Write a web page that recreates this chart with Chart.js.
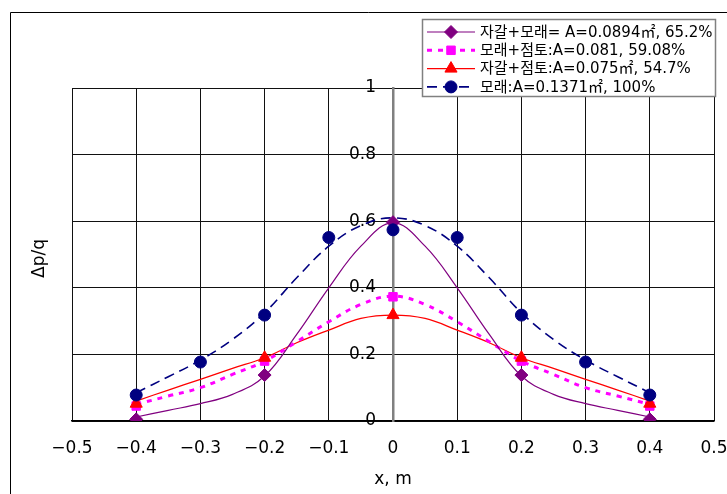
<!DOCTYPE html>
<html>
<head>
<meta charset="utf-8">
<script src="https://cdn.jsdelivr.net/npm/chart.js@4.4.1/dist/chart.umd.min.js"></script>
<style>
  html, body { margin: 0; padding: 0; background: #fff; }
  canvas { display: block; }
</style>
</head>
<body>
<canvas id="chart" width="727" height="494"></canvas>
<script>
// fitted curves, sampled every 0.05 m
const curveX = [-0.4, -0.35, -0.3, -0.25, -0.2, -0.15, -0.1, -0.05, 0, 0.05, 0.1, 0.15, 0.2, 0.25, 0.3, 0.35, 0.4];
const gravelSandCurve = [0.012, 0.032, 0.052, 0.08, 0.135, 0.26, 0.40, 0.525, 0.595, 0.525, 0.40, 0.26, 0.135, 0.08, 0.052, 0.032, 0.012];
const sandClayCurve = [0.05, 0.075, 0.10, 0.14, 0.18, 0.238, 0.298, 0.35, 0.375, 0.35, 0.298, 0.238, 0.18, 0.14, 0.10, 0.075, 0.05];
const gravelClayCurve = [0.06, 0.093, 0.125, 0.158, 0.19, 0.235, 0.273, 0.308, 0.318, 0.308, 0.273, 0.235, 0.19, 0.158, 0.125, 0.093, 0.06];
const sandCurve = [0.085, 0.133, 0.183, 0.245, 0.325, 0.43, 0.525, 0.587, 0.61, 0.587, 0.525, 0.43, 0.325, 0.245, 0.183, 0.133, 0.085];

// measured points
const markX = [-0.4, -0.2, 0, 0.2, 0.4];
const gravelSandMarks = [0.005, 0.138, 0.597, 0.138, 0.005];
const sandClayMarks = [0.045, 0.18, 0.373, 0.18, 0.045];
const gravelClayMarks = [0.052, 0.19, 0.318, 0.19, 0.052];
const sandMarkX = [-0.4, -0.3, -0.2, -0.1, 0, 0.1, 0.2, 0.3, 0.4];
const sandMarks = [0.078, 0.177, 0.318, 0.551, 0.574, 0.551, 0.318, 0.177, 0.078];

const seriesLabels = ["자갈+모래= A=0.0894㎡, 65.2%", "모래+점토:A=0.081, 59.08%", "자갈+점토:A=0.075㎡, 54.7%", "모래:A=0.1371㎡, 100%"];
const xTitle = "x, m";
const yTitle = "Δp/q";

const FONT = "'DejaVu Sans', 'Noto Sans CJK KR', sans-serif";
const toPoints = (xs, ys) => xs.map((x, i) => ({ x, y: ys[i] }));

const series = [
    { color: "#800080", style: "rectRot", radius: 6.5, width: 1.2, dash: [], curve: gravelSandCurve, mx: markX, my: gravelSandMarks },
    { color: "#FF00FF", style: "rect", radius: 6, width: 3, dash: [5, 6], curve: sandClayCurve, mx: markX, my: sandClayMarks },
    { color: "#FF0000", style: "triangle", radius: 7, width: 1.3, dash: [], curve: gravelClayCurve, mx: markX, my: gravelClayMarks },
    { color: "#000080", style: "circle", radius: 6, width: 1.6, dash: [10, 6], curve: sandCurve, mx: sandMarkX, my: sandMarks }
];

const frame = {
    id: "frame",
    beforeDraw(chart) {
        const ctx = chart.ctx;
        ctx.save();
        ctx.strokeStyle = "#000";
        ctx.lineWidth = 1;
        ctx.beginPath();
        ctx.moveTo(10.5, 494);
        ctx.lineTo(10.5, 12.5);
        ctx.lineTo(727, 12.5);
        ctx.stroke();
        ctx.translate(40, (chart.chartArea.top + chart.chartArea.bottom) / 2 + 4);
        ctx.rotate(-Math.PI / 2);
        ctx.fillStyle = "#000";
        ctx.font = "17px " + FONT;
        ctx.textAlign = "center";
        ctx.textBaseline = "middle";
        ctx.fillText(yTitle, 0, 0);
        ctx.restore();
    },
    afterDraw(chart) {
        const ctx = chart.ctx;
        ctx.save();
        ctx.fillStyle = "#fff";
        ctx.fillRect(422, 19, 294, 78);
        ctx.strokeStyle = "#808080";
        ctx.lineWidth = 1.5;
        ctx.strokeRect(422.5, 19.5, 293, 77);
        ctx.font = "15px " + FONT;
        ctx.textBaseline = "middle";
        series.forEach((s, i) => {
            const y = 32 + i * 18.3;
            ctx.strokeStyle = s.color;
            ctx.lineWidth = s.width;
            ctx.setLineDash(s.dash);
            ctx.beginPath();
            ctx.moveTo(427, y);
            ctx.lineTo(475, y);
            ctx.stroke();
            ctx.setLineDash([]);
            ctx.fillStyle = s.color;
            ctx.lineWidth = 1;
            Chart.helpers.drawPoint(ctx, { pointStyle: s.style, radius: s.radius, rotation: 0, borderWidth: 1 }, 451, y);
            ctx.fillStyle = "#000";
            ctx.fillText(seriesLabels[i], 480, y + 1);
        });
        ctx.restore();
    }
};

const markerSets = series.map((s, i) => ({
    label: seriesLabels[i],
    data: toPoints(s.mx, s.my),
    showLine: false,
    pointStyle: s.style,
    pointRadius: s.radius,
    backgroundColor: s.color,
    borderColor: s.color,
    borderWidth: 1
})).reverse();

const curveSets = series.map((s, i) => ({
    label: seriesLabels[i] + " curve",
    data: toPoints(curveX, s.curve),
    showLine: true,
    pointRadius: 0,
    borderColor: s.color,
    borderWidth: s.width,
    borderDash: s.dash,
    tension: 0.4,
    fill: false
}));

const fmt = v => {
    const n = Number(v.toFixed(1));
    return n === 0 ? "0" : (n < 0 ? "\u2212" : "") + Math.abs(n).toFixed(1);
};

new Chart(document.getElementById("chart"), {
    type: "scatter",
    data: { datasets: [...markerSets, ...curveSets] },
    options: {
        responsive: false,
        animation: false,
        layout: { padding: { left: 72, right: 13, top: 88, bottom: 4 } },
        plugins: { legend: { display: false }, tooltip: { enabled: false } },
        scales: {
            x: {
                type: "linear",
                min: -0.5,
                max: 0.5,
                afterFit(scale) { scale.paddingLeft = 0; scale.paddingRight = 0; scale.height = 69; },
                ticks: { stepSize: 0.1, callback: fmt, color: "#000", font: { size: 17, family: FONT }, padding: 17, maxRotation: 0 },
                grid: { color: ctx => (ctx.tick && Math.abs(ctx.tick.value) < 1e-9 ? "#808080" : "#111"), lineWidth: 1, drawTicks: false },
                border: { color: "#000", width: 1.5 },
                title: { display: true, text: xTitle, color: "#000", font: { size: 17, family: FONT }, padding: { top: 4, bottom: 0 } }
            },
            y: {
                type: "linear",
                position: { x: 0 },
                min: 0,
                max: 1,
                ticks: { stepSize: 0.2, callback: v => String(Number(v.toFixed(1))) + "\u2002\u2002", color: "#000", font: { size: 17, family: FONT } },
                grid: { color: "#111", lineWidth: 1, drawTicks: false },
                border: { color: "#808080", width: 2.5 }
            }
        }
    },
    plugins: [frame]
});
</script>
</body>
</html>
